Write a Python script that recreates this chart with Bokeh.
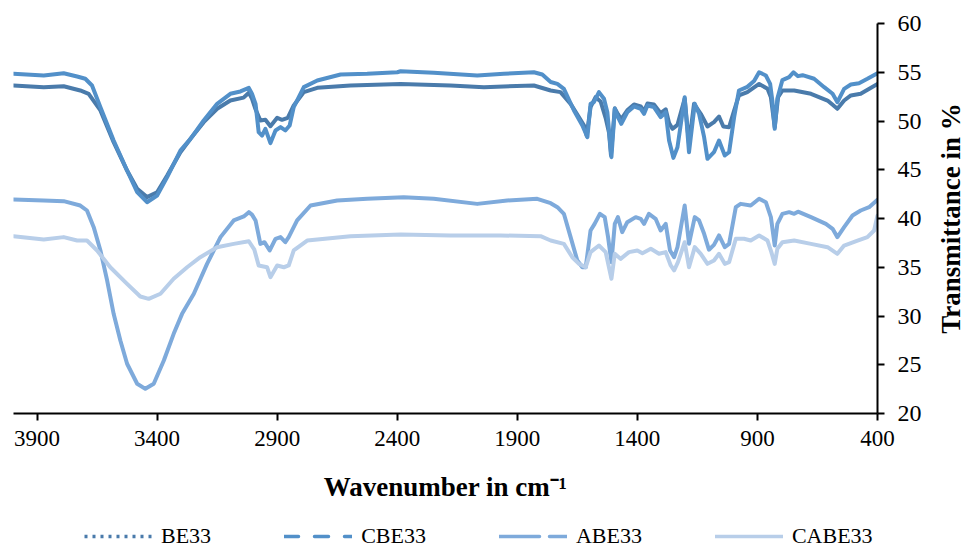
import math
from bokeh.plotting import figure
from bokeh.layouts import column, row
from bokeh.models import (Range1d, FixedTicker, Legend, LegendItem, Label)
from bokeh.embed import file_html
from bokeh.resources import INLINE

# ---------------- data ----------------
series_names = ["BE33", "CBE33", "ABE33", "CABE33"]

be33_wn = [3998, 3872, 3789, 3720, 3685, 3636, 3581, 3525, 3483, 3442, 3400, 3358, 3303, 3261,
           3206, 3150, 3095, 3040, 3018, 3005, 2990, 2970, 2949, 2928, 2900, 2880, 2856, 2831,
           2789, 2733, 2595, 2386, 2178, 2039, 1831, 1761, 1720, 1678, 1643, 1622, 1611, 1595,
           1574, 1553, 1532, 1518, 1510, 1494, 1481, 1467, 1442, 1414, 1386, 1372, 1358, 1331,
           1303, 1282, 1268, 1254, 1233, 1203, 1185, 1164, 1136, 1108, 1081, 1060, 1042, 1018,
           997, 977, 942, 893, 858, 844, 828, 814, 796, 747, 677, 608, 567, 539, 511, 470, 400]
be33_t = [53.64, 53.47, 53.57, 53.13, 52.79, 51.08, 47.83, 44.92, 43.05, 42.19, 42.7, 44.4, 46.8, 48.17,
          49.88, 51.25, 52.1, 52.4, 52.9, 52.3, 51.2, 50.05, 50.12, 49.47, 50.33, 50.12, 50.33, 51.59,
          52.96, 53.4, 53.64, 53.8, 53.64, 53.47, 53.64, 53.13, 52.96, 51.76, 50.39, 49.54, 48.5, 51.42,
          52.44, 52.0, 50.3, 48.8, 46.5, 51.3, 50.7, 50.2, 51.1, 51.7, 51.5, 51.0, 51.8, 51.7,
          50.8, 51.2, 49.8, 49.2, 49.6, 52.28, 47.66, 51.76, 50.74, 49.44, 49.88, 50.46, 49.44, 49.37,
          51.08, 52.62, 52.96, 53.8, 53.3, 52.44, 49.37, 52.44, 53.13, 53.13, 52.79, 52.1, 51.25, 52.1, 52.62, 52.79, 53.8]

cbe33_wn = [3998, 3872, 3789, 3733, 3699, 3671, 3636, 3581, 3525, 3483, 3442, 3400, 3358, 3303,
            3261, 3206, 3150, 3095, 3053, 3018, 3005, 2990, 2977, 2963, 2949, 2928, 2907, 2886,
            2866, 2848, 2831, 2789, 2733, 2636, 2525, 2400, 2386, 2248, 2067, 1956, 1831, 1796,
            1761, 1733, 1706, 1664, 1629, 1608, 1595, 1581, 1560, 1539, 1525, 1508, 1494, 1481,
            1467, 1442, 1414, 1386, 1372, 1358, 1331, 1303, 1282, 1268, 1250, 1233, 1203, 1185,
            1161, 1143, 1122, 1108, 1081, 1060, 1036, 1018, 997, 977, 942, 914, 893, 865, 847,
            838, 828, 817, 796, 768, 750, 731, 712, 664, 622, 587, 567, 539, 511, 477, 442, 400]
cbe33_t = [54.85, 54.67, 54.9, 54.56, 54.33, 53.64, 51.42, 48.0, 44.92, 42.7, 41.67, 42.36, 44.24, 46.97,
           48.17, 50.05, 51.76, 52.79, 53.03, 53.4, 52.8, 51.76, 48.85, 48.5, 49.2, 47.73, 49.03, 49.37,
           49.03, 49.54, 51.42, 53.47, 54.15, 54.77, 54.84, 55.0, 55.1, 54.95, 54.67, 54.84, 55.0, 54.77,
           54.0, 53.8, 53.3, 51.08, 49.54, 48.34, 51.76, 51.93, 52.96, 52.28, 50.9, 46.29, 51.25, 50.39,
           49.71, 50.9, 51.49, 51.25, 50.74, 51.59, 51.42, 50.39, 50.9, 48.0, 46.22, 47.31, 52.44, 46.8,
           51.76, 50.74, 48.34, 46.12, 46.8, 48.0, 46.46, 46.8, 50.39, 53.13, 53.5, 54.1, 55.0, 54.67, 53.8,
           52.1, 49.2, 52.3, 54.2, 54.5, 55.0, 54.6, 54.7, 54.33, 53.47, 52.79, 51.93, 53.3, 53.74, 53.88, 54.33, 54.9]

abe33_wn = [3998, 3872, 3789, 3720, 3692, 3664, 3636, 3608, 3581, 3553, 3525, 3483, 3449, 3414,
            3372, 3331, 3296, 3247, 3192, 3136, 3081, 3039, 3018, 3005, 2990, 2970, 2953, 2931,
            2907, 2886, 2866, 2852, 2817, 2761, 2650, 2525, 2373, 2248, 2067, 1942, 1817, 1761,
            1733, 1706, 1678, 1650, 1629, 1615, 1595, 1578, 1556, 1536, 1522, 1508, 1494, 1481,
            1463, 1442, 1407, 1386, 1372, 1352, 1324, 1303, 1282, 1264, 1247, 1233, 1203, 1185,
            1161, 1143, 1122, 1102, 1081, 1060, 1036, 1018, 990, 970, 928, 893, 865, 844, 828,
            817, 796, 768, 747, 731, 677, 615, 587, 567, 539, 504, 470, 435, 400]
abe33_t = [41.95, 41.85, 41.78, 41.33, 40.82, 39.11, 36.72, 33.64, 30.22, 27.49, 25.1, 23.05, 22.53, 23.05,
           25.44, 28.17, 30.22, 32.28, 35.35, 38.09, 39.8, 40.21, 40.65, 40.4, 39.8, 37.4, 37.57, 36.72,
           37.92, 38.09, 37.57, 38.09, 39.8, 41.33, 41.85, 42.02, 42.19, 42.02, 41.5, 41.85, 42.02, 41.57,
           41.16, 40.48, 38.09, 35.69, 35.0, 35.0, 38.77, 39.45, 40.48, 40.14, 38.09, 35.52, 39.45, 40.14,
           38.6, 39.62, 40.14, 39.97, 39.45, 40.48, 39.97, 38.77, 39.45, 36.72, 36.03, 37.06, 41.33, 37.4,
           40.14, 39.8, 38.43, 36.8, 37.3, 38.26, 37.06, 37.4, 41.16, 41.5, 41.33, 42.02, 41.67, 40.14, 37.23,
           39.45, 40.48, 40.65, 40.48, 40.7, 40.14, 39.45, 38.94, 38.09, 39.11, 40.31, 40.82, 41.16, 41.92]

cabe33_wn = [3998, 3872, 3789, 3733, 3692, 3650, 3595, 3525, 3470, 3435, 3386, 3331, 3275, 3220,
             3150, 3081, 3018, 2995, 2977, 2942, 2928, 2900, 2872, 2852, 2831, 2775, 2595, 2386,
             2178, 1970, 1803, 1761, 1706, 1671, 1643, 1615, 1595, 1560, 1532, 1508, 1494, 1470,
             1435, 1400, 1379, 1344, 1310, 1282, 1261, 1247, 1231, 1203, 1185, 1161, 1136, 1108,
             1081, 1060, 1036, 1018, 990, 956, 928, 893, 858, 842, 828, 817, 796, 747, 677, 608,
             567, 539, 483, 442, 414, 400]
cabe33_t = [38.19, 37.85, 38.09, 37.74, 37.74, 36.72, 35.0, 33.3, 32.0, 31.76, 32.28, 33.82, 35.0, 36.03,
            37.06, 37.4, 37.67, 36.8, 35.18, 35.0, 33.98, 35.18, 35.0, 35.18, 36.72, 37.74, 38.19, 38.36,
            38.26, 38.26, 38.19, 37.74, 37.4, 36.03, 35.35, 35.0, 36.55, 37.23, 36.55, 33.82, 36.38, 35.86,
            36.55, 36.72, 36.44, 36.89, 36.38, 36.55, 35.18, 34.67, 35.52, 37.57, 35.0, 37.06, 36.38, 35.35,
            35.69, 36.38, 35.35, 35.52, 37.92, 37.92, 37.74, 38.26, 37.74, 36.55, 35.35, 36.89, 37.57, 37.74, 37.4, 37.06,
            36.38, 37.23, 37.74, 38.09, 38.77, 40.31]

x_ticks = [3900, 3400, 2900, 2400, 1900, 1400, 900, 400]
y_ticks = [20, 25, 30, 35, 40, 45, 50, 55, 60]
x_title = "Wavenumber in cm\u207b\u00b9"
y_title = "Transmittance in %"

colors = ["#4a7bab", "#5290c9", "#7eaadb", "#b8cee9"]
legend_dashes = ["3 5", "14 16", "40 10", "solid"]

FONT = "Liberation Serif"
all_wn = [be33_wn, cbe33_wn, abe33_wn, cabe33_wn]
all_t = [be33_t, cbe33_t, abe33_t, cabe33_t]

# ---------------- main chart ----------------
p = figure(width=935, height=515, output_backend="svg", toolbar_location=None,
           x_range=Range1d(3998, 400), y_range=Range1d(20, 60),
           y_axis_location="right",
           min_border_left=13, min_border_top=23, min_border_right=58, min_border_bottom=102)
p.outline_line_color = None
p.grid.visible = False
p.background_fill_color = "white"
p.border_fill_color = "white"

for wn, t, c in zip(all_wn, all_t, colors):
    p.line(wn, t, line_color=c, line_width=4, line_join="round", line_cap="round")

xa = p.xaxis[0]
xa.ticker = FixedTicker(ticks=x_ticks)
xa.axis_label = x_title
xa.axis_label_text_font = FONT
xa.axis_label_text_font_style = "bold"
xa.axis_label_text_font_size = "27px"
xa.axis_label_text_color = "black"
xa.axis_label_standoff = 23
xa.major_label_text_font = FONT
xa.major_label_text_font_size = "23px"
xa.major_label_text_color = "black"
xa.major_label_standoff = 10
xa.major_tick_out = 7
xa.major_tick_in = 0
xa.minor_tick_out = 0
xa.minor_tick_in = 0
xa.axis_line_width = 2
xa.major_tick_line_width = 2
xa.axis_line_color = "black"
xa.major_tick_line_color = "black"

ya = p.yaxis[0]
ya.ticker = FixedTicker(ticks=y_ticks)
ya.major_label_text_font = FONT
ya.major_label_text_font_size = "24px"
ya.major_label_text_color = "black"
ya.major_label_standoff = 13
ya.major_tick_out = 7
ya.major_tick_in = 0
ya.minor_tick_out = 0
ya.minor_tick_in = 0
ya.axis_line_width = 2
ya.major_tick_line_width = 2
ya.axis_line_color = "black"
ya.major_tick_line_color = "black"

# ---------------- y-axis title strip (reads bottom to top) ----------------
tf = figure(width=30, height=515, output_backend="svg", toolbar_location=None,
            x_range=Range1d(0, 1), y_range=Range1d(0, 1),
            x_axis_location=None, y_axis_location=None,
            min_border_left=0, min_border_right=0, min_border_top=23, min_border_bottom=102)
tf.outline_line_color = None
tf.grid.visible = False
tf.background_fill_color = "white"
tf.border_fill_color = "white"
tf.add_layout(Label(x=15, y=195, x_units="screen", y_units="screen", text=y_title,
                    angle=math.pi / 2, text_align="center", text_baseline="middle",
                    text_font=FONT, text_font_style="bold", text_font_size="27px",
                    text_color="black"))

# ---------------- legend strip below the chart ----------------
lg = figure(width=965, height=33, output_backend="svg", toolbar_location=None,
            x_range=Range1d(0, 1), y_range=Range1d(0, 1),
            x_axis_location=None, y_axis_location=None,
            min_border_left=13, min_border_right=88, min_border_top=0, min_border_bottom=0)
lg.outline_line_color = None
lg.grid.visible = False
lg.background_fill_color = "white"
lg.border_fill_color = "white"

items = []
for name, wn, t, c, d in zip(series_names, all_wn, all_t, colors, legend_dashes):
    # proxy renderer (outside this strip's visible range) that carries the legend line style
    r = lg.line(wn, t, line_color=c, line_width=3.5, line_dash=d,
                line_cap="round" if d != "3 5" else "butt")
    items.append(LegendItem(label=name, renderers=[r]))

legend = Legend(items=items, orientation="horizontal", location=(71, -1),
                glyph_width=68, glyph_height=18, label_height=18, label_standoff=9, spacing=73,
                padding=0, margin=0, border_line_color=None, background_fill_alpha=0,
                label_text_font=FONT, label_text_font_size="22px", label_text_color="black")
lg.add_layout(legend)

layout = column(row(p, tf, spacing=0), lg, spacing=0)
open("out.html", "w").write(file_html(layout, INLINE))
